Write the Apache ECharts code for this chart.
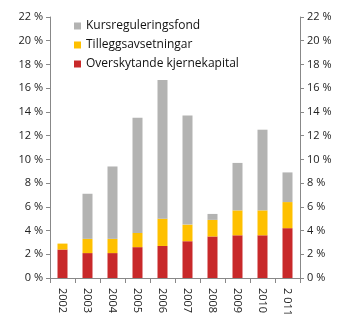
<!DOCTYPE html>
<html><head><meta charset="utf-8">
<script src="https://cdn.jsdelivr.net/npm/echarts@6/dist/echarts.min.js"></script>
<style>html,body{margin:0;padding:0;background:#fff}#c{width:350px;height:332px}</style>
</head><body><div id="c"></div>
<script>
var categories = ['2002','2003','2004','2005','2006','2007','2008','2009','2010','2 011'];
var kjernekapital = [2.4, 2.1, 2.1, 2.6, 2.7, 3.1, 3.5, 3.6, 3.6, 4.2];
var tillegg = [0.5, 1.2, 1.2, 1.2, 2.3, 1.4, 1.4, 2.1, 2.1, 2.2];
var kursreg = [0, 3.8, 6.1, 9.7, 11.7, 9.2, 0.5, 4.0, 6.8, 2.5];
var names = ['Kursreguleringsfond','Tilleggsavsetningar','Overskytande kjernekapital'];
var font = 'Open Sans';
var chart = echarts.init(document.getElementById('c'));
function yAxis(pos){
  return {type:'value', position:pos, min:0, max:22, interval:2,
    axisLine:{show:true, lineStyle:{color:'#888', width:1}},
    axisTick:{show:true, length:4, lineStyle:{color:'#888'}},
    splitLine:{show:false},
    axisLabel:{formatter:'{value} %', color:'#222', fontSize:11, fontFamily:font, margin:7}};
}
chart.setOption({
  animation:false,
  grid:{left:50, right:50, top:17, bottom:54},
  legend:{left:69, top:15, orient:'vertical', itemWidth:7, itemHeight:7, itemGap:7,
    data:names, textStyle:{fontSize:12, fontFamily:font, color:'#111'}, icon:'rect'},
  xAxis:{type:'category', data:categories,
    axisLine:{lineStyle:{color:'#888'}},
    axisTick:{show:true, length:5, lineStyle:{color:'#888'}},
    axisLabel:{rotate:-90, fontSize:11, fontFamily:font, color:'#222', margin:10}},
  yAxis:[yAxis('left'), yAxis('right')],
  series:[
    {name:names[2], type:'bar', stack:'a', data:kjernekapital, barWidth:10, itemStyle:{color:'#c8292a'}},
    {name:names[1], type:'bar', stack:'a', data:tillegg, barWidth:10, itemStyle:{color:'#fec000'}},
    {name:names[0], type:'bar', stack:'a', data:kursreg, barWidth:10, itemStyle:{color:'#b3b3b2'}}
  ]
});
</script></body></html>
